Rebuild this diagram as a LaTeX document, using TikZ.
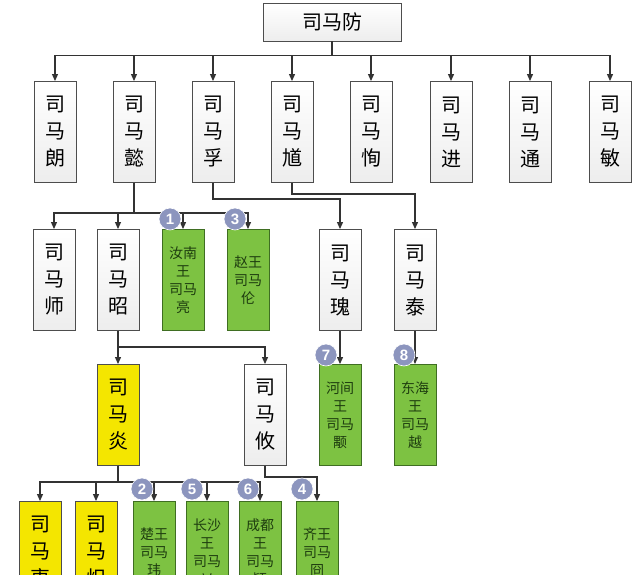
\documentclass[tikz,border=0pt]{standalone}
\usepackage{fontspec}
\setmainfont{Noto Sans CJK SC}
\setsansfont{Liberation Sans}
\usetikzlibrary{arrows.meta}

\definecolor{boxline}{HTML}{4D4D4D}
\definecolor{wangfill}{HTML}{7DC242}
\definecolor{wangline}{HTML}{3F6E22}
\definecolor{wangtext}{HTML}{1E3D0F}
\definecolor{dishfill}{HTML}{F4E600}
\definecolor{badgefill}{HTML}{8C95BE}

\begin{document}
\begin{tikzpicture}[x=1pt,y=-1pt,
    box/.style={draw=boxline, line width=0.9pt, minimum width=42pt, minimum height=101pt,
        inner sep=0pt, align=center, font=\fontsize{20}{27}\selectfont},
    person/.style={box, top color=white, bottom color=gray!14},
    emperor/.style={box, fill=dishfill},
    wang/.style={box, draw=wangline, fill=wangfill, text=wangtext, font=\fontsize{14}{18}\selectfont},
    badge/.style={circle, fill=badgefill, draw=white, line width=0.6pt, minimum size=22pt,
        inner sep=0pt, text=white, font=\sffamily\bfseries\fontsize{15}{15}\selectfont},
    link/.style={draw=black!80, line width=1.1pt, -{Triangle[length=7pt,width=6pt]}}]
    \useasboundingbox (0,0) rectangle (640,575);
    \fill[white] (0,0) rectangle (640,575);
    \clip (0,0) rectangle (640,575);

    % generation of Sima Fang
    \node[person, minimum width=138pt, minimum height=38pt] (fang) at (332,22) {司马防};
    \node[person] (lang) at (55,132) {司\\马\\朗};
    \node[person] (yi) at (134,132) {司\\马\\懿};
    \node[person] (fu) at (213,132) {司\\马\\孚};
    \node[person] (kui) at (292,132) {司\\马\\馗};
    \node[person] (xun) at (371,132) {司\\马\\恂};
    \node[person] (jin) at (451,132) {司\\马\\进};
    \node[person] (tong) at (530,132) {司\\马\\通};
    \node[person] (min) at (610,132) {司\\马\\敏};
    \foreach \son in {lang,yi,fu,kui,xun,jin,tong,min}
        \draw[link] (fang.south) -- ++(0,14) -| (\son);

    % second row
    \node[person] (shi) at (54,280) {司\\马\\师};
    \node[person] (zhao) at (118,280) {司\\马\\昭};
    \node[wang] (liang) at (183,280) {汝南\\王\\司马\\亮};
    \node[wang] (lun) at (248,280) {赵王\\司马\\伦};
    \node[person] (gui) at (340,280) {司\\马\\瑰};
    \node[person] (tai) at (415,280) {司\\马\\泰};
    \foreach \son in {shi,zhao,liang,lun}
        \draw[link] (yi.south) -- ++(0,30) -| (\son);
    \draw[link] (fu.south) -- ++(0,16) -| (gui);
    \draw[link] (kui.south) -- ++(0,11) -| (tai);

    % third row
    \node[emperor] (yan) at (118,415) {司\\马\\炎};
    \node[person] (you) at (265,415) {司\\马\\攸};
    \node[wang] (yong) at (340,415) {河间\\王\\司马\\颙};
    \node[wang] (yue) at (415,415) {东海\\王\\司马\\越};
    \draw[link] (zhao.south) -- ++(0,16) -| (yan);
    \draw[link] (zhao.south) -- ++(0,16) -| (you);
    \draw[link] (gui) -- (yong);
    \draw[link] (tai) -- (yue);

    % fourth row
    \node[emperor] (zhong) at (40,552) {司\\马\\衷};
    \node[emperor] (chi) at (96,552) {司\\马\\炽};
    \node[wang] (wei) at (154,552) {楚王\\司马\\玮};
    \node[wang] (ai) at (207,552) {长沙\\王\\司马\\乂};
    \node[wang] (ying) at (260,552) {成都\\王\\司马\\颖};
    \node[wang] (jiong) at (317,552) {齐王\\司马\\冏};
    \foreach \son in {zhong,chi,wei,ai,ying}
        \draw[link] (yan.south) -- ++(0,16) -| (\son);
    \draw[link] (you.south) -- ++(0,11) -| (jiong);

    % order of the eight princes
    \node[badge] (b1) at (170,219) {1};
    \node[badge] (b3) at (235,219) {3};
    \node[badge] (b7) at (326,355) {7};
    \node[badge] (b8) at (404,355) {8};
    \node[badge] (b2) at (142,489) {2};
    \node[badge] (b5) at (192,489) {5};
    \node[badge] (b6) at (248,489) {6};
    \node[badge] (b4) at (302,489) {4};
\end{tikzpicture}
\end{document}
